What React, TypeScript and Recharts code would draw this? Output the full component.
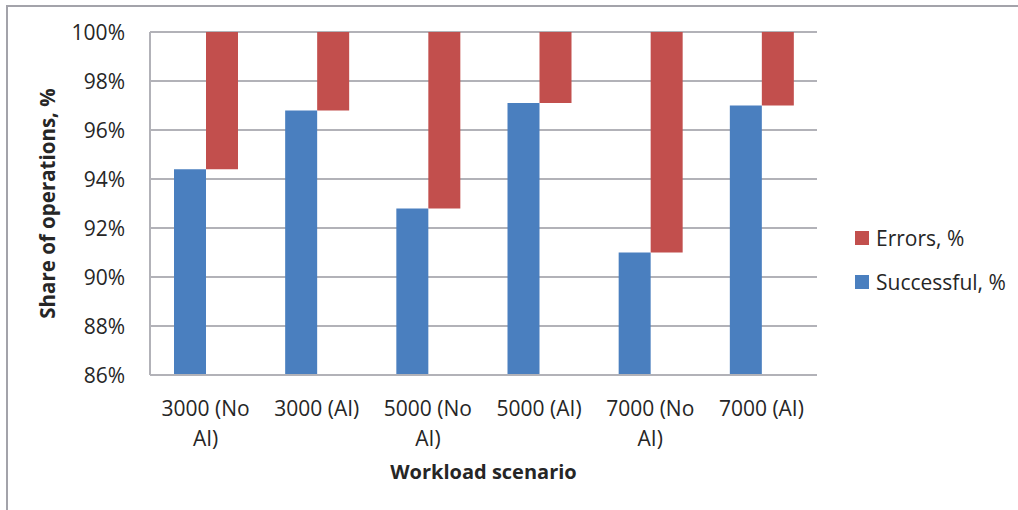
import React from "react";
import { BarChart, Bar, XAxis, YAxis, CartesianGrid, Legend, Label } from "recharts";

// Workload scenarios on the category axis
const scenarios = ["3000 (No AI)", "3000 (AI)", "5000 (No AI)", "5000 (AI)", "7000 (No AI)", "7000 (AI)"];
// Share of successful operations, %
const successful = [94.4, 96.8, 92.8, 97.1, 91.0, 97.0];
// Share of failed operations, % (stacked from the success level up to 100%)
const errors = [5.6, 3.2, 7.2, 2.9, 9.0, 3.0];
// Value axis ticks, %
const yTicks = [86, 88, 90, 92, 94, 96, 98, 100];

const data = scenarios.map((name, i) => ({
  name,
  successful: successful[i],
  errors: errors[i],
}));

const FONT = "'Open Sans', sans-serif";
const TEXT = "#262626";
const BLUE = "#4A7FBF";
const RED = "#C24F4D";
const GRID = "#B2B2B8";

// Greedy word wrap for category labels
const wrap = (text: string, maxChars: number): string[] => {
  const words = text.split(" ");
  const lines: string[] = [];
  let cur = "";
  for (const w of words) {
    const next = cur ? cur + " " + w : w;
    if (next.length > maxChars && cur) {
      lines.push(cur);
      cur = w;
    } else {
      cur = next;
    }
  }
  if (cur) lines.push(cur);
  return lines;
};

const XTick = (props: any) => {
  const { x, y, payload } = props;
  const lines = wrap(String(payload.value), 9);
  return (
    <g>
      {lines.map((ln, i) => (
        <text
          key={i}
          x={x}
          y={y + 39 + i * 30}
          textAnchor="middle"
          fontFamily={FONT}
          fontSize={21}
          fill={TEXT}
        >
          {ln}
        </text>
      ))}
    </g>
  );
};

const YTick = (props: any) => {
  const { x, y, payload } = props;
  return (
    <text x={x - 23} y={y + 7.5} textAnchor="end" fontFamily={FONT} fontSize={21} fill={TEXT}>
      {`${payload.value}%`}
    </text>
  );
};

const LegendBox = () => {
  const items = [
    { label: "Errors, %", color: RED },
    { label: "Successful, %", color: BLUE },
  ];
  return (
    <div style={{ fontFamily: FONT, fontSize: 21, color: TEXT }}>
      {items.map((it) => (
        <div key={it.label} style={{ display: "flex", alignItems: "center", height: 44, whiteSpace: "nowrap" }}>
          <span style={{ display: "inline-block", width: 14, height: 14, background: it.color, marginRight: 7 }} />
          <span>{it.label}</span>
        </div>
      ))}
    </div>
  );
};

export default function App() {
  return (
    <div style={{ position: "absolute", left: 0, top: 0, width: 1018, height: 510, background: "#fff", overflow: "hidden" }}>
      <div
        style={{
          position: "absolute",
          left: 6,
          top: 5,
          width: 1030,
          height: 520,
          borderLeft: "2px solid #A3A3AA",
          borderTop: "2px solid #A3A3AA",
        }}
      />
      <BarChart
        width={1018}
        height={510}
        data={data}
        margin={{ top: 32, right: 201, bottom: 0, left: 0 }}
        barSize={32}
        barGap={0}
        style={{ position: "absolute", left: 0, top: 0 }}
      >
        <CartesianGrid vertical={false} stroke={GRID} strokeWidth={2} />
        <XAxis
          dataKey="name"
          height={135}
          tickLine={false}
          tickSize={0}
          axisLine={{ stroke: GRID, strokeWidth: 2 }}
          tick={<XTick />}
          interval={0}
        >
          <Label
            value="Workload scenario"
            position="insideTop"
            offset={90}
            style={{ fontFamily: FONT, fontSize: 20, fontWeight: 700, fill: TEXT }}
          />
        </XAxis>
        <YAxis
          width={150}
          domain={[86, 100]}
          ticks={yTicks}
          tickLine={false}
          tickSize={0}
          axisLine={{ stroke: GRID, strokeWidth: 2 }}
          tick={<YTick />}
          interval={0}
        >
          <Label
            value="Share of operations, %"
            angle={-90}
            position="insideLeft"
            offset={48}
            style={{ fontFamily: FONT, fontSize: 20.5, fontWeight: 700, fill: TEXT, textAnchor: "middle" }}
          />
        </YAxis>
        <Legend
          layout="horizontal"
          align="center"
          verticalAlign="middle"
          content={<LegendBox />}
          wrapperStyle={{ left: 855, top: 216, width: 160, height: 90 }}
        />
        <Bar dataKey="successful" name="Successful, %" fill={BLUE} isAnimationActive={false} />
        <Bar
          dataKey={(d: any) => [100 - d.errors, 100]}
          name="Errors, %"
          fill={RED}
          isAnimationActive={false}
        />
      </BarChart>
    </div>
  );
}
